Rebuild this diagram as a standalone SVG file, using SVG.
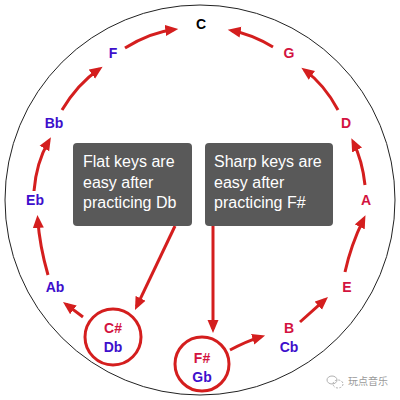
<svg xmlns="http://www.w3.org/2000/svg" width="400" height="400" viewBox="0 0 400 400">
<style>
.lbl{font-family:"Liberation Sans",Arial,sans-serif;font-weight:bold;font-size:14px;text-anchor:middle}
.sharp{fill:#d3133f}
.flat{fill:#3d0fcc}
.nat{fill:#000}
.box{fill:#595959}
.btxt{font-family:"Liberation Sans",Arial,sans-serif;font-size:16px;fill:#fff}
.arr{fill:none;stroke:#d41e1e;stroke-width:3;marker-end:url(#ah)}
.ring{fill:#fff;stroke:#d41e1e;stroke-width:3}
.wm{font-family:"Noto Sans CJK SC",sans-serif;font-size:10px;fill:#9a9a9a}
</style>
<defs>
<marker id="ah" markerUnits="userSpaceOnUse" markerWidth="14" markerHeight="12" refX="9" refY="6" orient="auto">
<path d="M0,0.5 L13,6 L0,11.5 Z" fill="#d41e1e"/>
</marker>
</defs>
<rect width="400" height="400" fill="#fff"/>
<circle cx="200" cy="200" r="195" fill="none" stroke="#222" stroke-width="1"/>

<g id="connectors">
<path class="arr" d="M125,48 Q149.8,32.3 174.3,29.4"/>
<path class="arr" d="M62,110 Q77.6,83.9 99.3,69"/>
<path class="arr" d="M34,191 Q36.2,162.7 48.9,140.8"/>
<path class="arr" d="M48,275 Q39.6,245.8 37.7,218.9"/>
<path class="arr" d="M83,317 L66.2,304.4"/>
<path class="arr" d="M175,226 L136.7,306.4"/>
<path class="arr" d="M213,226 L213,329"/>
<path class="arr" d="M230,350 Q247,341 261.3,336.6"/>
<path class="arr" d="M300,322 L325,299.7"/>
<path class="arr" d="M345,272 Q350.8,245.1 363.7,218.8"/>
<path class="arr" d="M365,185 Q362.4,160.6 353.1,141.9"/>
<path class="arr" d="M338,110 Q324.4,84.4 304.6,70.1"/>
<path class="arr" d="M273,47 Q251.7,34.2 231.7,30.5"/>
</g>

<g id="node-C"><text class="lbl nat" x="201" y="29">C</text></g>
<g id="node-G"><text class="lbl sharp" x="289" y="58">G</text></g>
<g id="node-D"><text class="lbl sharp" x="346" y="128">D</text></g>
<g id="node-A"><text class="lbl sharp" x="366" y="205">A</text></g>
<g id="node-E"><text class="lbl sharp" x="347" y="292">E</text></g>
<g id="node-BCb">
<text class="lbl sharp" x="289" y="333">B</text>
<text class="lbl flat" x="289" y="352">Cb</text>
</g>
<g id="node-FsGb">
<circle class="ring" cx="202" cy="364" r="27"/>
<text class="lbl sharp" x="202" y="363">F#</text>
<text class="lbl flat" x="202" y="382">Gb</text>
</g>
<g id="node-CsDb">
<circle class="ring" cx="113" cy="337" r="28"/>
<text class="lbl sharp" x="113" y="333">C#</text>
<text class="lbl flat" x="113" y="352">Db</text>
</g>
<g id="node-Ab"><text class="lbl flat" x="55" y="292">Ab</text></g>
<g id="node-Eb"><text class="lbl flat" x="35" y="205">Eb</text></g>
<g id="node-Bb"><text class="lbl flat" x="54" y="128">Bb</text></g>
<g id="node-F"><text class="lbl flat" x="113" y="58">F</text></g>

<g id="note-flat">
<rect class="box" x="73" y="143" width="119" height="83" rx="4"/>
<text class="btxt" x="83" y="167">Flat keys are</text>
<text class="btxt" x="83" y="187.5">easy after</text>
<text class="btxt" x="83" y="208">practicing Db</text>
</g>
<g id="note-sharp">
<rect class="box" x="205" y="143" width="128" height="83" rx="4"/>
<text class="btxt" x="214" y="167">Sharp keys are</text>
<text class="btxt" x="214" y="187.5">easy after</text>
<text class="btxt" x="214" y="208">practicing F#</text>
</g>

<g id="watermark">
<ellipse cx="332" cy="380" rx="5" ry="4" fill="none" stroke="#b0b0b0" stroke-width="1"/>
<ellipse cx="338" cy="384" rx="5" ry="4" fill="none" stroke="#b0b0b0" stroke-width="1" stroke-dasharray="2 1.5"/>
<text class="wm" x="348" y="385">玩点音乐</text>
</g>
</svg>
